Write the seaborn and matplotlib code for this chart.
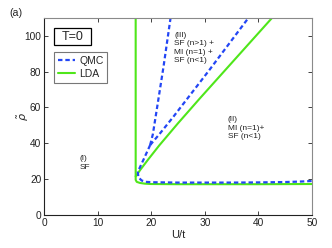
import numpy as np
import pandas as pd
import seaborn as sns
from matplotlib import pyplot as plt
from matplotlib.lines import Line2D
from matplotlib.patches import Rectangle

# LDA boundary (green solid)
lda_vert_u = [17.1, 17.1, 17.3, 17.9, 18.8, 20.0, 25.0, 30.0, 40.0, 50.0]
lda_vert_rho = [110.0, 19.5, 18.4, 17.8, 17.4, 17.2, 17.1, 17.1, 17.1, 17.2]
lda_diag_u = [17.1, 18.0, 19.5, 21.5, 25.0, 29.1, 42.5]
lda_diag_rho = [21.5, 25.3, 31.2, 38.8, 51.2, 65.2, 110.0]

# QMC boundary (blue dashed)
qmc_low_u = [19.8, 18.8, 17.5, 17.6, 18.2, 19.0, 20.0, 25.0, 30.0, 35.0, 40.0, 45.0, 48.0, 50.0]
qmc_low_rho = [39.0, 32.4, 24.0, 21.0, 19.2, 18.4, 18.2, 18.0, 18.0, 18.0, 18.1, 18.3, 18.6, 18.9]
qmc_steep_u = [19.8, 20.3, 21.2, 22.3, 23.6]
qmc_steep_rho = [39.0, 45.0, 62.0, 83.0, 110.0]
qmc_diag_u = [19.8, 21.5, 24.1, 30.8, 38.1]
qmc_diag_rho = [39.0, 45.0, 54.7, 80.8, 110.0]

x_ticks = [0, 10, 20, 30, 40, 50]
y_ticks = [0, 20, 40, 60, 80, 100]

green = '#4fe61a'
blue = '#2346f5'
dash = (0, (2.0, 1.3))

sns.set_style("ticks")
plt.rcParams['font.family'] = ['Liberation Sans', 'DejaVu Sans']
plt.rcParams['mathtext.fontset'] = 'dejavusans'

fig = plt.figure(figsize=(3.32, 2.48), dpi=100)
ax = fig.add_axes([0.1325, 0.134, 0.8075, 0.793])

for u, r in [(lda_vert_u, lda_vert_rho), (lda_diag_u, lda_diag_rho)]:
    sns.lineplot(x=u, y=r, ax=ax, sort=False, estimator=None, color=green, lw=1.5)
for u, r in [(qmc_low_u, qmc_low_rho), (qmc_steep_u, qmc_steep_rho), (qmc_diag_u, qmc_diag_rho)]:
    sns.lineplot(x=u, y=r, ax=ax, sort=False, estimator=None, color=blue, lw=1.6,
                 dashes=False, linestyle=dash)

ax.set_xlim(0, 50)
ax.set_ylim(0, 110)
ax.set_xticks(x_ticks)
ax.set_yticks(y_ticks)
ax.tick_params(direction='in', top=True, right=True, length=3, width=0.6,
               labelsize=7.3, pad=2, colors='#222222')
for s in ['left', 'bottom']:
    ax.spines[s].set_color('#222222')
    ax.spines[s].set_linewidth(0.8)
for s in ['top', 'right']:
    ax.spines[s].set_color('#8a8a8a')
    ax.spines[s].set_linewidth(0.8)
    ax.spines[s].set_visible(True)

ax.set_xlabel('U/t', fontsize=8)
ax.xaxis.set_label_coords(0.5, -0.075)
ax.set_ylabel(r'$\tilde{\rho}$', fontsize=8)
ax.yaxis.set_label_coords(-0.05, 0.5)

fs = 6.0
ax.text(24.3, 102.5, '(III)\nSF (n>1) +\nMI (n=1) +\nSF (n<1)', fontsize=fs,
        ha='left', va='top', linespacing=1.3, color='#222222')
ax.text(34.3, 55.0, '(II)\nMI (n=1)+\nSF (n<1)', fontsize=fs,
        ha='left', va='top', linespacing=1.3, color='#222222')
ax.text(6.6, 33.3, '(I)\nSF', fontsize=fs, ha='left', va='top',
        linespacing=1.3, color='#222222')

ax.add_patch(Rectangle((0.037, 0.863), 0.138, 0.086, transform=ax.transAxes,
                       fill=True, facecolor='white', edgecolor='black', lw=0.9, zorder=5))
ax.text(0.106, 0.906, 'T=0', transform=ax.transAxes, fontsize=9, ha='center',
        va='center', zorder=6)

handles = [Line2D([], [], color=blue, lw=1.6, linestyle=dash),
           Line2D([], [], color=green, lw=1.5)]
leg = ax.legend(handles, ['QMC', 'LDA'], loc='upper left', bbox_to_anchor=(0.037, 0.827),
                borderaxespad=0, fontsize=7.5, frameon=True, fancybox=False, framealpha=1,
                handlelength=1.7, handletextpad=0.4, borderpad=0.35, labelspacing=0.3)
leg.get_frame().set_edgecolor('#777777')
leg.get_frame().set_linewidth(0.8)

fig.text(9 / 332, 1 - 8 / 248, '(a)', fontsize=7.7, ha='left', va='top')

fig.savefig('out.png', dpi=100)
